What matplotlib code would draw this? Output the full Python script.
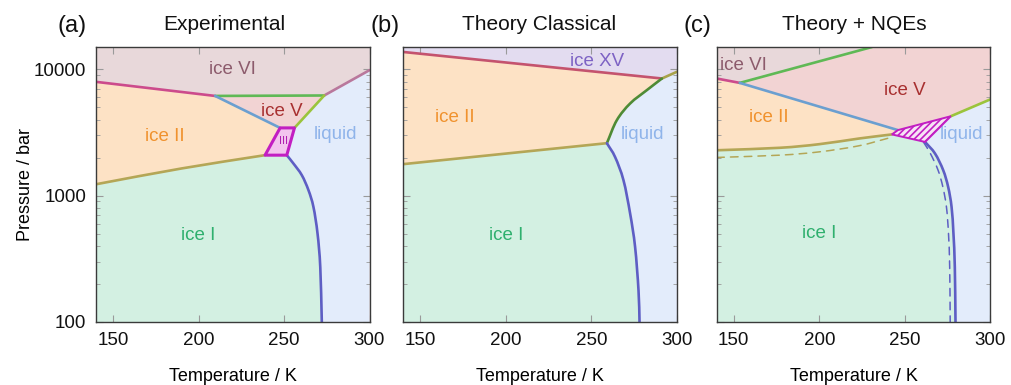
import matplotlib
matplotlib.use("Agg")
import matplotlib.pyplot as plt
import numpy as np
from matplotlib.path import Path
from matplotlib.patches import PathPatch
from matplotlib.ticker import FixedLocator, LogLocator, NullFormatter

plt.rcParams["font.family"] = ["Liberation Sans", "DejaVu Sans"]
plt.rcParams["hatch.linewidth"] = 1.2

T_MIN, T_MAX = 140, 300
P_MIN, P_MAX = 100, 15000

# ---- (a) experimental phase boundaries: temperature (K), pressure (bar)
a_VI_II_T, a_VI_II_P = [140, 209.7], [7950, 6150]
a_V_VI_T, a_V_VI_P = [209.7, 273.5], [6150, 6200]
a_VI_liq_T, a_VI_liq_P = [273.5, 300], [6200, 9840]
a_II_V_T, a_II_V_P = [209.7, 247.7], [6150, 3435]
a_V_liq_T, a_V_liq_P = [273.5, 256.1], [6200, 3435]
a_III_T, a_III_P = [247.7, 256.1, 251.6, 238.9], [3435, 3435, 2090, 2090]
a_II_I_T, a_II_I_P = [140, 190, 238.9], [1230, 1640, 2090]
a_I_liq_T = [251.6, 255.5, 260.4, 264.3, 267.2, 269.6, 271.2, 272.1]
a_I_liq_P = [2090, 1795, 1452, 1104, 814, 501, 272, 100]

# ---- (b) classical theory
b_II_XV_T, b_II_XV_P = [140, 291.3], [13700, 8450]
b_XV_liq_T, b_XV_liq_P = [291.3, 300], [8450, 9540]
b_II_liq_T, b_II_liq_P = [259.1, 264.9, 272.7, 282.5, 291.3], [2600, 3950, 5360, 6840, 8450]
b_II_I_T, b_II_I_P = [140, 259.1], [1775, 2600]
b_I_liq_T = [259.1, 263.9, 268.8, 272.7, 275.6, 277.6, 278.2]
b_I_liq_P = [2600, 2020, 1325, 721, 393, 178, 100]

# ---- (c) theory with nuclear quantum effects
c_VI_II_T, c_VI_II_P = [140, 153.5], [8450, 7800]
c_VI_V_T, c_VI_V_P = [153.5, 230.9], [7800, 15000]
c_II_V_T, c_II_V_P = [153.5, 246], [7800, 3300]
c_II_I_T, c_II_I_P = [140, 176.8, 200, 223.2, 242.5], [2285, 2390, 2553, 2830, 3050]
c_II_I_dash_T, c_II_I_dash_P = [140, 176.8, 200, 223.2, 242.5], [2005, 2090, 2220, 2480, 2900]
c_III_T, c_III_P = [242.5, 246, 277, 261.9], [3050, 3300, 4250, 2660]
c_V_liq_T, c_V_liq_P = [277, 300], [4250, 5770]
c_I_liq_T = [261.9, 267.7, 272.5, 275.4, 277.4, 278.5, 279.3, 279.7]
c_I_liq_P = [2660, 2155, 1590, 1172, 814, 501, 272, 100]
c_I_liq_dash_T = [260.9, 265, 269.5, 272.3, 274.4, 275.6, 276.3, 276.6]
c_I_liq_dash_P = [2660, 2155, 1590, 1172, 814, 501, 272, 100]

X_TICKS = [150, 200, 250, 300]
Y_TICKS = [100, 1000, 10000]
PANEL_TITLES = ["Experimental", "Theory Classical", "Theory + NQEs"]
PANEL_TAGS = ["(a)", "(b)", "(c)"]

FILL = {
    "VI": "#e8d8da", "II": "#fde2c5", "V": "#f2d3d3", "I": "#d3f0e2",
    "liq": "#e3ecfb", "III": "#f3c4ee", "XV": "#e3dcf0", "hatch": "#f7e4f5",
}
TEXT = {
    "VI": "#8c5b6c", "II": "#f0922e", "V": "#a83030", "I": "#2fb06e",
    "liq": "#8fb4ea", "XV": "#7d62c4", "III": "#b020b0",
}
LINE = {
    "VI_II": "#cc4b8c", "XV_II": "#c4536e", "V_VI": "#5fb955", "VI_liq": "#b9789c",
    "XV_liq": "#a8a24a", "II_V": "#6b9fd0", "V_liq": "#9bc43c", "III": "#c21ec2",
    "II_I": "#b4a656", "I_liq": "#5e5ec4", "II_liq": "#4f8b35",
}

# rough pixel scale of one kelvin / one decade, used to shape the curves
SX, SY = 273.0 / 160.0, 126.3


def _uv(T, P):
    return np.column_stack([(np.asarray(T, float) - T_MIN) * SX,
                            np.log10(np.asarray(P, float)) * SY])


def _tp(q):
    return (q[0] / SX + T_MIN, 10 ** (q[1] / SY))


def curve_tail(T, P):
    """Bezier pieces through the points (Catmull-Rom tangents), start point excluded."""
    pts = _uv(T, P)
    n = len(pts)
    if n < 2:
        return [], []
    tang = np.zeros_like(pts)
    tang[0] = pts[1] - pts[0]
    tang[-1] = pts[-1] - pts[-2]
    for i in range(1, n - 1):
        tang[i] = (pts[i + 1] - pts[i - 1]) / 2
    verts, codes = [], []
    for i in range(n - 1):
        for q in (pts[i] + tang[i] / 3, pts[i + 1] - tang[i + 1] / 3, pts[i + 1]):
            verts.append(_tp(q))
            codes.append(Path.CURVE4)
    return verts, codes


def rev(T, P):
    return T[::-1], P[::-1]


def corner(T, P):
    # straight polyline (box corners)
    return (T, P, False)


def make_path(segs, closed):
    verts, codes = [], []
    for seg in segs:
        T, P = seg[0], seg[1]
        smooth = seg[2] if len(seg) > 2 else True
        verts.append((T[0], P[0]))
        codes.append(Path.LINETO if codes else Path.MOVETO)
        if smooth:
            v, c = curve_tail(T, P)
            verts += v
            codes += c
        else:
            for t, p in zip(T[1:], P[1:]):
                verts.append((t, p))
                codes.append(Path.LINETO)
    if closed:
        verts.append(verts[0])
        codes.append(Path.CLOSEPOLY)
    return Path(verts, codes)


def region(ax, color, *segs):
    ax.add_patch(PathPatch(make_path(segs, True), facecolor=color, lw=0, zorder=1))


def boundary(ax, T, P, color, ls="-", lw=1.9):
    ax.add_patch(PathPatch(make_path([(T, P)], False), fill=False, edgecolor=color,
                           lw=lw, ls=ls, capstyle="round", joinstyle="round", zorder=4))


def label(ax, T, P, text, color, size=13.5):
    ax.text(T, P, text, color=color, fontsize=size, ha="center", va="center", zorder=3)


def full_box(ax, color):
    region(ax, color, corner([T_MIN, T_MAX, T_MAX, T_MIN], [P_MIN, P_MIN, P_MAX, P_MAX]))


def style_axes(ax, show_y):
    ax.set_yscale("log")
    ax.set_xlim(T_MIN, T_MAX)
    ax.set_ylim(P_MIN, P_MAX)
    ax.xaxis.set_major_locator(FixedLocator(X_TICKS))
    ax.yaxis.set_major_locator(FixedLocator(Y_TICKS))
    ax.yaxis.set_minor_locator(LogLocator(base=10, subs=range(2, 10)))
    ax.yaxis.set_minor_formatter(NullFormatter())
    ax.set_yticklabels([str(v) for v in Y_TICKS] if show_y else [])
    ax.tick_params(which="both", direction="in", top=True, right=True,
                   color="#9a9a9a", labelsize=13.5, labelcolor="#111111")
    ax.tick_params(axis="x", which="major", length=5, pad=7)
    ax.tick_params(axis="y", which="major", length=5, pad=7)
    ax.tick_params(which="minor", length=3)
    for s in ax.spines.values():
        s.set_color("#3a3a3a")
        s.set_linewidth(1.0)
        s.set_zorder(6)
    ax.set_xlabel("Temperature / K", fontsize=13, labelpad=14)
    if show_y:
        ax.set_ylabel("Pressure / bar", fontsize=13, labelpad=0)


def draw_a(ax):
    full_box(ax, FILL["VI"])
    region(ax, FILL["II"], (a_VI_II_T, a_VI_II_P), (a_II_V_T, a_II_V_P),
           ([a_III_T[3]], [a_III_P[3]]), rev(a_II_I_T, a_II_I_P))
    region(ax, FILL["V"], (a_V_VI_T, a_V_VI_P), (a_V_liq_T, a_V_liq_P),
           rev(a_II_V_T, a_II_V_P))
    region(ax, FILL["liq"],
           corner([a_I_liq_T[-1], T_MAX, T_MAX], [P_MIN, P_MIN, a_VI_liq_P[-1]]),
           rev(a_VI_liq_T, a_VI_liq_P), (a_V_liq_T, a_V_liq_P), (a_I_liq_T, a_I_liq_P))
    region(ax, FILL["I"], ([T_MIN], [P_MIN]), (a_II_I_T, a_II_I_P),
           (a_I_liq_T, a_I_liq_P))
    ax.fill(a_III_T, a_III_P, facecolor=FILL["III"], edgecolor=LINE["III"],
            lw=2.2, joinstyle="round", zorder=5)

    boundary(ax, a_VI_II_T, a_VI_II_P, LINE["VI_II"])
    boundary(ax, a_V_VI_T, a_V_VI_P, LINE["V_VI"])
    boundary(ax, a_VI_liq_T, a_VI_liq_P, LINE["VI_liq"])
    boundary(ax, a_II_V_T, a_II_V_P, LINE["II_V"])
    boundary(ax, a_V_liq_T, a_V_liq_P, LINE["V_liq"])
    boundary(ax, a_II_I_T, a_II_I_P, LINE["II_I"])
    boundary(ax, a_I_liq_T, a_I_liq_P, LINE["I_liq"])

    label(ax, 220, 10000, "ice VI", TEXT["VI"])
    label(ax, 248.7, 4660, "ice V", TEXT["V"])
    label(ax, 180, 2950, "ice II", TEXT["II"])
    label(ax, 280, 3050, "liquid", TEXT["liq"])
    label(ax, 200, 485, "ice I", TEXT["I"])
    ax.text(249.8, 2700, "III", color=TEXT["III"], fontsize=8, ha="center",
            va="center", zorder=6)


def draw_b(ax):
    full_box(ax, FILL["XV"])
    region(ax, FILL["II"], (b_II_XV_T, b_II_XV_P), rev(b_II_liq_T, b_II_liq_P),
           rev(b_II_I_T, b_II_I_P))
    region(ax, FILL["liq"],
           corner([b_I_liq_T[-1], T_MAX, T_MAX], [P_MIN, P_MIN, b_XV_liq_P[-1]]),
           rev(b_XV_liq_T, b_XV_liq_P), rev(b_II_liq_T, b_II_liq_P),
           (b_I_liq_T, b_I_liq_P))
    region(ax, FILL["I"], ([T_MIN], [P_MIN]), (b_II_I_T, b_II_I_P),
           (b_I_liq_T, b_I_liq_P))

    label(ax, 253.2, 11600, "ice XV", TEXT["XV"])
    label(ax, 170.3, 4150, "ice II", TEXT["II"])
    label(ax, 280.1, 3050, "liquid", TEXT["liq"])
    label(ax, 200, 485, "ice I", TEXT["I"])

    boundary(ax, b_II_XV_T, b_II_XV_P, LINE["XV_II"])
    boundary(ax, b_XV_liq_T, b_XV_liq_P, LINE["XV_liq"])
    boundary(ax, b_II_liq_T, b_II_liq_P, LINE["II_liq"])
    boundary(ax, b_II_I_T, b_II_I_P, LINE["II_I"])
    boundary(ax, b_I_liq_T, b_I_liq_P, LINE["I_liq"])


def draw_c(ax):
    full_box(ax, FILL["V"])
    region(ax, FILL["VI"], ([T_MIN], [P_MAX]), (c_VI_II_T, c_VI_II_P),
           (c_VI_V_T, c_VI_V_P))
    region(ax, FILL["II"], (c_VI_II_T, c_VI_II_P), (c_II_V_T, c_II_V_P),
           rev(c_II_I_T, c_II_I_P))
    region(ax, FILL["I"], ([T_MIN], [P_MIN]), (c_II_I_T, c_II_I_P),
           (c_I_liq_T, c_I_liq_P))
    region(ax, FILL["liq"], corner([c_I_liq_T[-1], T_MAX], [P_MIN, P_MIN]),
           rev(c_V_liq_T, c_V_liq_P), (c_I_liq_T, c_I_liq_P))

    label(ax, 155.5, 10770, "ice VI", TEXT["VI"])
    label(ax, 250.3, 6820, "ice V", TEXT["V"])
    label(ax, 170.5, 4150, "ice II", TEXT["II"])
    label(ax, 283.2, 3050, "liquid", TEXT["liq"])
    label(ax, 200, 500, "ice I", TEXT["I"])

    boundary(ax, c_II_I_dash_T, c_II_I_dash_P, LINE["II_I"], ls=(0, (5, 4)), lw=1.1)
    boundary(ax, c_I_liq_dash_T, c_I_liq_dash_P, LINE["I_liq"], ls=(0, (5, 4)), lw=1.1)
    boundary(ax, c_VI_II_T, c_VI_II_P, LINE["VI_II"])
    boundary(ax, c_VI_V_T, c_VI_V_P, LINE["V_VI"])
    boundary(ax, c_II_V_T, c_II_V_P, LINE["II_V"])
    boundary(ax, c_V_liq_T, c_V_liq_P, LINE["V_liq"])
    boundary(ax, c_II_I_T, c_II_I_P, LINE["II_I"])
    boundary(ax, c_I_liq_T, c_I_liq_P, LINE["I_liq"])
    ax.fill(c_III_T, c_III_P, facecolor=FILL["hatch"], edgecolor=LINE["III"],
            hatch="/////", lw=1.4, zorder=5)


fig = plt.figure(figsize=(10.11, 3.85), dpi=100)
lefts = [96, 403.3, 716.7]
axes = []
for x0 in lefts:
    axes.append(fig.add_axes([x0 / 1011, 1 - 322 / 385, 273.5 / 1011, (322 - 47) / 385]))

draw_a(axes[0])
draw_b(axes[1])
draw_c(axes[2])
for i, ax in enumerate(axes):
    style_axes(ax, show_y=(i == 0))

title_x = [224.5, 539.5, 854.5]
tag_x = [72, 385, 697]
for i in range(3):
    fig.text(title_x[i] / 1011, 1 - 25 / 385, PANEL_TITLES[i], fontsize=15,
             ha="center", va="center", color="#111111")
    fig.text(tag_x[i] / 1011, 1 - 26 / 385, PANEL_TAGS[i], fontsize=17,
             ha="center", va="center", color="#111111")

fig.savefig("out.png", dpi=100)
